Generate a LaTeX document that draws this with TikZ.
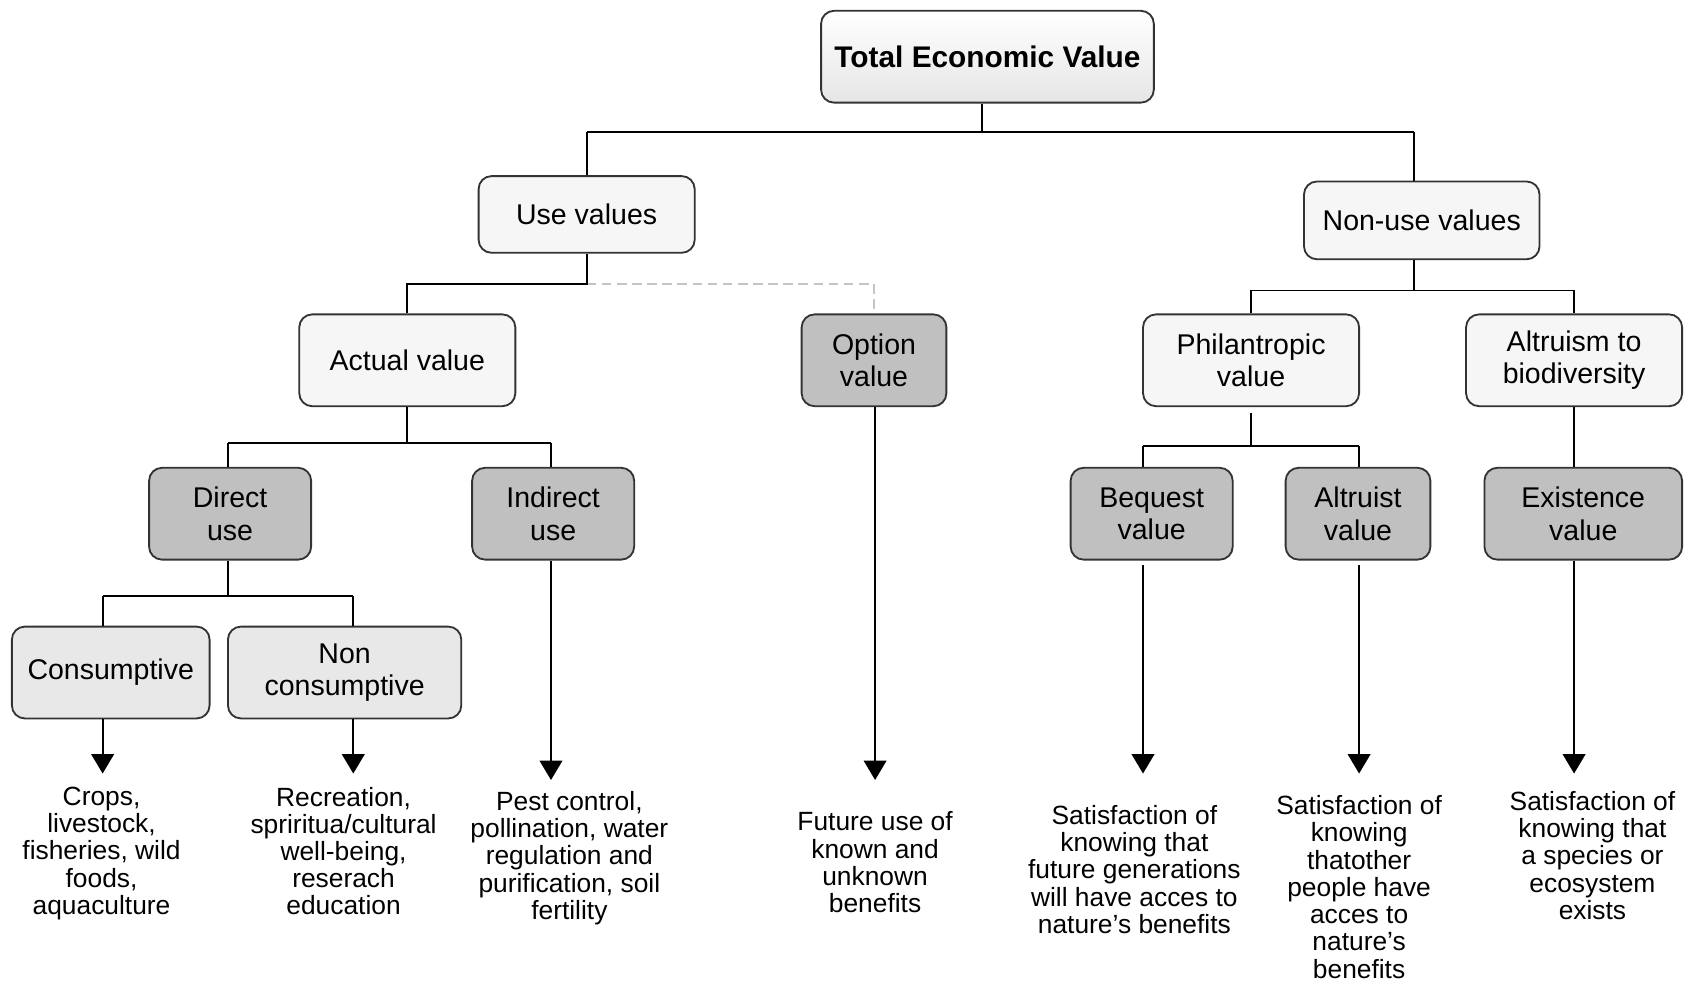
\documentclass[tikz,border=0pt]{standalone}
\usepackage{fontspec}
\setmainfont{Liberation Sans}
\usetikzlibrary{arrows.meta}
\definecolor{lightfill}{HTML}{F6F6F6}
\definecolor{darkfill}{HTML}{C0C0C0}
\definecolor{midfill}{HTML}{E8E8E8}
\definecolor{dashgray}{HTML}{C4C4C4}
\tikzset{
  box/.style={draw=black!80, line width=0.85pt, rounded corners=6pt, align=center,
    font=\fontsize{13.2}{15}\selectfont, inner sep=2pt},
  lightbox/.style={box, fill=lightfill},
  darkbox/.style={box, fill=darkfill},
  midbox/.style={box, fill=midfill},
  topbox/.style={box, top color=white, bottom color=black!10, font=\fontsize{13.8}{15}\selectfont\bfseries},
  desc/.style={align=center, anchor=north, font=\fontsize{12.2}{12.6}\selectfont, inner sep=0pt},
  link/.style={line width=0.85pt, black},
  arr/.style={link, -{Triangle[width=10.5pt,length=9pt]}},
  dlink/.style={line width=0.9pt, dashgray, dash pattern=on 4.5pt off 2.5pt}
}
\begin{document}
\begin{tikzpicture}[x=0.5pt, y=-0.5pt]
\useasboundingbox (0,0) rectangle (1568,909);
% boxes
\node[topbox, minimum width=154pt, minimum height=42.5pt] (tev) at (914,52.5) {Total Economic Value};
\node[lightbox, minimum width=100pt, minimum height=35.5pt] (use) at (543,198.5) {Use values};
\node[lightbox, minimum width=109pt, minimum height=36pt] (nonuse) at (1316,204) {Non-use values};
\node[lightbox, minimum width=100pt, minimum height=42.5pt] (actual) at (377,333.5) {Actual value};
\node[darkbox, minimum width=67pt, minimum height=42.5pt] (option) at (809,333.5) {Option\\value};
\node[lightbox, minimum width=100pt, minimum height=42.5pt] (phil) at (1158,333.5) {Philantropic\\value};
\node[lightbox, minimum width=100pt, minimum height=42.5pt] (altbio) at (1457,333.5) {Altruism to\\biodiversity};
\node[darkbox, minimum width=75pt, minimum height=42.5pt] (direct) at (213,475.5) {Direct\\use};
\node[darkbox, minimum width=75pt, minimum height=42.5pt] (indirect) at (512,475.5) {Indirect\\use};
\node[darkbox, minimum width=75pt, minimum height=42.5pt] (bequest) at (1066,475.5) {Bequest\\value};
\node[darkbox, minimum width=67pt, minimum height=42.5pt] (altruist) at (1257,475.5) {Altruist\\value};
\node[darkbox, minimum width=91.5pt, minimum height=42.5pt] (existence) at (1465.5,475.5) {Existence\\value};
\node[midbox, minimum width=91.5pt, minimum height=42.5pt] (cons) at (102.5,622.5) {Consumptive};
\node[midbox, minimum width=108pt, minimum height=42.5pt] (noncons) at (319,622.5) {Non\\consumptive};
% descriptions
\node[desc] (dcons) at (94,728) {Crops,\\livestock,\\fisheries, wild\\foods,\\aquaculture};
\node[desc] (dnoncons) at (318,728) {Recreation,\\spriritua/cultural\\well-being,\\reserach\\education};
\node[desc] (dindirect) at (527,732) {Pest control,\\pollination, water\\regulation and\\purification, soil\\fertility};
\node[desc] (doption) at (810,751) {Future use of\\known and\\unknown\\benefits};
\node[desc] (dbequest) at (1050,745) {Satisfaction of\\knowing that\\future generations\\will have acces to\\nature's benefits};
\node[desc] (daltruist) at (1258,736) {Satisfaction of\\knowing\\thatother\\people have\\acces to\\nature's\\benefits};
\node[desc] (dexist) at (1474,732) {Satisfaction of\\knowing that\\a species or\\ecosystem\\exists};
% bus / arrow coordinates
\coordinate (xnon) at (1309,0);
\coordinate (xdir) at (211,0);
\coordinate (xind) at (510,0);
\coordinate (xbeq) at (1058,0);
\coordinate (xalt) at (1258,0);
\coordinate (xcon) at (95,0);
\coordinate (xnc) at (327,0);
\coordinate (acons) at (95,716);
\coordinate (anoncons) at (327,716);
\coordinate (aindirect) at (510,722);
\coordinate (aoption) at (810,722);
\coordinate (abequest) at (1058,716);
\coordinate (aaltruist) at (1258,716);
\coordinate (aexist) at (1457,716);
% tree connectors
\draw[link] ([xshift=-2.5pt]tev.south) -- ++(0,26) coordinate (b1);
\draw[link] (b1 -| use.north) -- (b1 -| xnon);
\draw[link] (b1 -| use.north) -- (use.north);
\draw[link] (b1 -| xnon) -- (xnon |- nonuse.north);
\draw[dlink] (use.south) ++(0,28) -| (option.north);
\draw[link] (use.south) -- ++(0,28) -| (actual.north);
\draw[link] (xnon |- nonuse.south) -- ++(0,28) coordinate (b2);
\draw[link] (b2 -| phil.north) -- (b2 -| altbio.north);
\draw[link] (b2 -| phil.north) -- (phil.north);
\draw[link] (b2 -| altbio.north) -- (altbio.north);
\draw[link] (actual.south) -- ++(0,33) coordinate (b3);
\draw[link] (b3 -| xdir) -- (b3 -| xind);
\draw[link] (b3 -| xdir) -- (xdir |- direct.north);
\draw[link] (b3 -| xind) -- (xind |- indirect.north);
\draw[link] ([yshift=-2.5pt]phil.south) -- ++(0,31) coordinate (b4);
\draw[link] (b4 -| xbeq) -- (b4 -| xalt);
\draw[link] (b4 -| xbeq) -- (xbeq |- bequest.north);
\draw[link] (b4 -| xalt) -- (xalt |- altruist.north);
\draw[link] (altbio.south) -- (altbio.south |- existence.north);
\draw[link] (xdir |- direct.south) -- ++(0,33) coordinate (b5);
\draw[link] (b5 -| xcon) -- (b5 -| xnc);
\draw[link] (b5 -| xcon) -- (xcon |- cons.north);
\draw[link] (b5 -| xnc) -- (xnc |- noncons.north);
% arrows
\draw[arr] (cons.south -| acons) -- (acons);
\draw[arr] (noncons.south -| anoncons) -- (anoncons);
\draw[arr] (indirect.south -| aindirect) -- (aindirect);
\draw[arr] (option.south -| aoption) -- (aoption);
\draw[arr] ([yshift=-2pt]bequest.south -| abequest) -- (abequest);
\draw[arr] ([yshift=-2pt]altruist.south -| aaltruist) -- (aaltruist);
\draw[arr] (existence.south -| aexist) -- (aexist);
\end{tikzpicture}
\end{document}
